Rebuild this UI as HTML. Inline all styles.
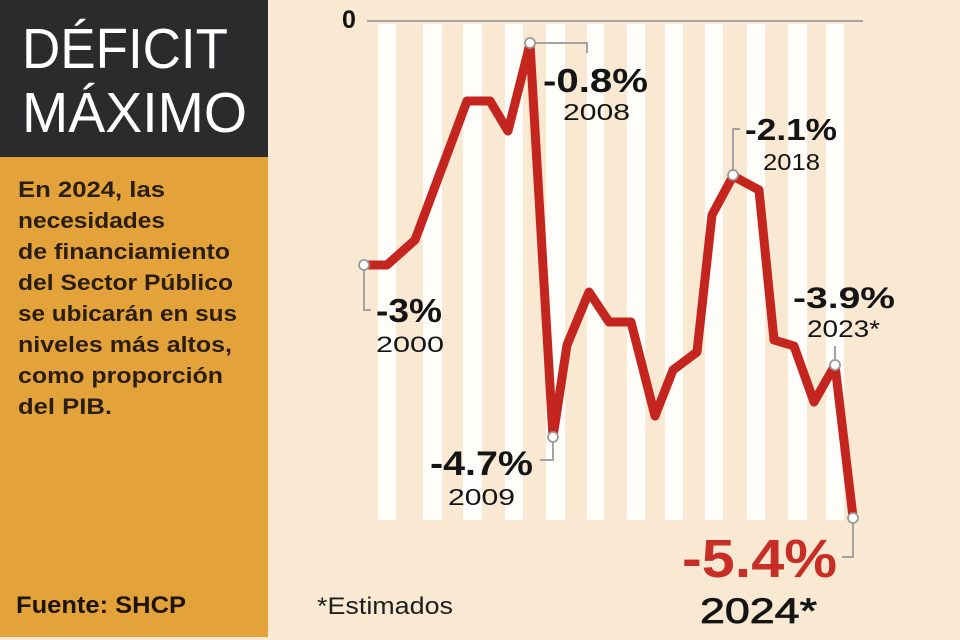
<!DOCTYPE html>
<html>
<head>
<meta charset="utf-8">
<style>
  html,body{margin:0;padding:0;background:#f9e9d2;}
  svg{display:block;}
  .b{font-family:"Liberation Sans",sans-serif;font-weight:bold;}
  .r{font-family:"Liberation Sans",sans-serif;font-weight:normal;}
</style>
</head>
<body>
<svg width="960" height="640" viewBox="0 0 960 640" xmlns="http://www.w3.org/2000/svg">
  <rect x="0" y="0" width="960" height="640" fill="#f9e9d2"/>
  <!-- left panel -->
  <rect x="0" y="0" width="268" height="157" fill="#2b2a2c"/>
  <rect x="0" y="157" width="268" height="480" fill="#e4a33a"/>
  <text class="r" x="22" y="68" font-size="57" fill="#ffffff" textLength="206" lengthAdjust="spacingAndGlyphs">DÉFICIT</text>
  <text class="r" x="22" y="132" font-size="57" fill="#ffffff" textLength="225" lengthAdjust="spacingAndGlyphs">MÁXIMO</text>

  <g class="b" font-size="22.5" fill="#2a1d12">
    <text x="18" y="197" textLength="147" lengthAdjust="spacingAndGlyphs">En 2024, las</text>
    <text x="18" y="228" textLength="147" lengthAdjust="spacingAndGlyphs">necesidades</text>
    <text x="18" y="259" textLength="212" lengthAdjust="spacingAndGlyphs">de financiamiento</text>
    <text x="18" y="290" textLength="215" lengthAdjust="spacingAndGlyphs">del Sector Público</text>
    <text x="18" y="321" textLength="219" lengthAdjust="spacingAndGlyphs">se ubicarán en sus</text>
    <text x="18" y="352" textLength="214" lengthAdjust="spacingAndGlyphs">niveles más altos,</text>
    <text x="18" y="383" textLength="205" lengthAdjust="spacingAndGlyphs">como proporción</text>
    <text x="18" y="414" textLength="94" lengthAdjust="spacingAndGlyphs">del PIB.</text>
  </g>
  <text class="b" x="16" y="613" font-size="24" fill="#1d140c" textLength="170" lengthAdjust="spacingAndGlyphs">Fuente: SHCP</text>

  <!-- stripes -->
  <g fill="#fffdf9">
    <rect x="378" y="24" width="18" height="496"/>
    <rect x="423" y="24" width="19" height="496"/>
    <rect x="463" y="24" width="19" height="496"/>
    <rect x="505" y="24" width="18" height="496"/>
    <rect x="546" y="24" width="19" height="496"/>
    <rect x="587" y="24" width="17" height="496"/>
    <rect x="627" y="24" width="18" height="496"/>
    <rect x="665" y="24" width="18" height="496"/>
    <rect x="705" y="24" width="18" height="496"/>
    <rect x="747" y="24" width="18" height="496"/>
    <rect x="788" y="24" width="19" height="496"/>
    <rect x="826" y="24" width="18" height="496"/>
  </g>

  <!-- zero line -->
  <line x1="367" y1="21" x2="863" y2="21" stroke="#8c8c8c" stroke-width="1.5"/>
  <text class="b" x="342" y="28" font-size="25" fill="#111">0</text>

  <!-- leader lines -->
  <g stroke="#a3a3a3" stroke-width="2" fill="none">
    <polyline points="364,265 364,310 371,310"/>
    <polyline points="530,43 587,43 587,53"/>
    <polyline points="553,437 553,460 540,460"/>
    <polyline points="733,175 733,129 740,129"/>
    <polyline points="835,365 835,346"/>
    <polyline points="853,518 853,557 842,557"/>
  </g>

  <!-- data line -->
  <polyline fill="none" stroke="#c4261f" stroke-width="9" stroke-linejoin="round" stroke-linecap="round"
    points="364,265 387,265 415,240 467,101 490,101 508,131 530,44 553,437 567,345 589,292 609,322 631,322 655,416 673,370 697,352 712,215 733,176 759,190 774,340 794,346 814,402 835,365 853,517"/>

  <!-- markers -->
  <g fill="#ffffff" stroke="#9a9a9a" stroke-width="1.8">
    <circle cx="364" cy="265" r="5"/>
    <circle cx="530" cy="43" r="5"/>
    <circle cx="553" cy="437" r="5"/>
    <circle cx="733" cy="175" r="5"/>
    <circle cx="835" cy="365" r="5"/>
    <circle cx="853" cy="518" r="5"/>
  </g>

  <!-- labels -->
  <g fill="#141414">
    <text class="b" x="376" y="322" font-size="33" textLength="66" lengthAdjust="spacingAndGlyphs">-3%</text>
    <text class="r" x="376" y="352" font-size="22" textLength="68" lengthAdjust="spacingAndGlyphs">2000</text>

    <text class="b" x="543" y="92" font-size="33" textLength="105" lengthAdjust="spacingAndGlyphs">-0.8%</text>
    <text class="r" x="563" y="120" font-size="23" textLength="67" lengthAdjust="spacingAndGlyphs">2008</text>

    <text class="b" x="430" y="475" font-size="34" textLength="103" lengthAdjust="spacingAndGlyphs">-4.7%</text>
    <text class="r" x="448" y="505" font-size="23" textLength="67" lengthAdjust="spacingAndGlyphs">2009</text>

    <text class="b" x="745" y="140" font-size="31" textLength="92" lengthAdjust="spacingAndGlyphs">-2.1%</text>
    <text class="r" x="763" y="170" font-size="23" textLength="57" lengthAdjust="spacingAndGlyphs">2018</text>

    <text class="b" x="793" y="308" font-size="30" textLength="102" lengthAdjust="spacingAndGlyphs">-3.9%</text>
    <text class="r" x="807" y="337" font-size="24" textLength="73" lengthAdjust="spacingAndGlyphs">2023*</text>

    <text class="r" x="700" y="623" font-size="35" textLength="117" lengthAdjust="spacingAndGlyphs" stroke="#141414" stroke-width="0.8">2024*</text>
    <text class="r" x="317" y="614" font-size="24" textLength="136" lengthAdjust="spacingAndGlyphs" fill="#1e1e1e">*Estimados</text>
  </g>
  <text class="b" x="682" y="577" font-size="54" fill="#c72f26" textLength="155" lengthAdjust="spacingAndGlyphs">-5.4%</text>
</svg>
</body>
</html>
